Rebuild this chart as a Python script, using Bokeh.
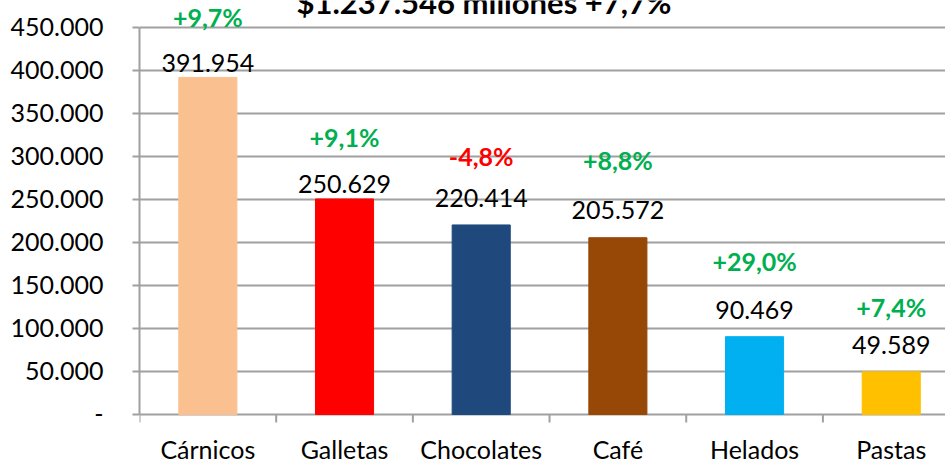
from bokeh.plotting import figure
from bokeh.models import ColumnDataSource, LabelSet, Label, FixedTicker, Range1d
from bokeh.core.properties import value
from bokeh.embed import file_html
from bokeh.resources import INLINE

# ---- data ----
categories = ["Cárnicos", "Galletas", "Chocolates", "Café", "Helados", "Pastas"]
sales = [391954, 250629, 220414, 205572, 90469, 49589]
changes = ["+9,7%", "+9,1%", "-4,8%", "+8,8%", "+29,0%", "+7,4%"]
y_ticks = [0, 50000, 100000, 150000, 200000, 250000, 300000, 350000, 400000, 450000]
y_tick_labels = ["-", "50.000", "100.000", "150.000", "200.000", "250.000",
                 "300.000", "350.000", "400.000", "450.000"]
title_text = "$1.237.546 millones +7,7%"

# ---- styles / layout ----
bar_colors = ["#FAC090", "#FF0000", "#1F497D", "#974806", "#00B0F0", "#FFC000"]
change_colors = ["#00B050", "#00B050", "#FF0000", "#00B050", "#00B050", "#00B050"]
value_label_offsets = [5, 6, 18, 19, 18, 18]
change_label_offsets = [50, 52, 59, 68, 66, 55]
FONT = "Lato"
GRID = "#A0A0A0"
Y_AXIS_MAX = 450000
Y_VIEW = (-58140, 481395)     # room below 0 for category labels, above for the title
X_VIEW = (0, 5.897)
TICK_LEN = 9300                # boundary tick length (data units, ~8px)
TITLE_POS = (2.52, 479650)

xs = [i + 0.5 for i in range(len(categories))]
bounds_x = list(range(len(categories) + 1))
value_texts = [f"{v:,}".replace(",", ".") for v in sales]

src = ColumnDataSource(dict(x=xs, top=sales, color=bar_colors, vtext=value_texts,
                            ctext=changes, ccolor=change_colors, cat=categories,
                            voff=value_label_offsets, coff=change_label_offsets))

p = figure(width=945, height=464, output_backend="svg", toolbar_location=None,
           x_range=Range1d(*X_VIEW), y_range=Range1d(*Y_VIEW),
           min_border_left=139, min_border_right=0, min_border_top=0,
           min_border_bottom=0)
p.outline_line_color = None
p.background_fill_color = "white"
p.border_fill_color = "white"

p.vbar(x="x", top="top", width=0.425, bottom=0, color="color", source=src)

# y axis
p.yaxis.ticker = FixedTicker(ticks=y_ticks, minor_ticks=[])
p.yaxis.bounds = (0, Y_AXIS_MAX)
p.yaxis.major_label_overrides = {t: l for t, l in zip(y_ticks, y_tick_labels)}
p.yaxis.major_tick_out = 7
p.yaxis.major_tick_in = 0
p.yaxis.minor_tick_line_color = None
p.yaxis.major_tick_line_color = GRID
p.yaxis.major_tick_line_width = 2
p.yaxis.axis_line_color = GRID
p.yaxis.axis_line_width = 2
p.yaxis.major_label_standoff = 29
p.yaxis.major_label_text_font = FONT
p.yaxis.major_label_text_font_size = "25px"
p.yaxis.major_label_text_color = "black"

# category axis drawn at y = 0 (zero grid line is the axis line)
p.xaxis.visible = False
p.xgrid.grid_line_color = None
p.ygrid.ticker = FixedTicker(ticks=y_ticks)
p.ygrid.grid_line_color = GRID
p.ygrid.grid_line_width = 2
p.segment(x0=bounds_x, y0=[0] * len(bounds_x), x1=bounds_x,
          y1=[-TICK_LEN] * len(bounds_x), line_color=GRID, line_width=2)
p.text(x="x", y=0, text="cat", source=src, y_offset=35,
       text_align="center", text_baseline="alphabetic",
       text_font=value(FONT), text_font_size="25px", text_color="black")

p.add_layout(LabelSet(x="x", y="top", text="vtext", y_offset="voff", source=src,
                      text_align="center", text_baseline="alphabetic",
                      text_font=value(FONT), text_font_size="25px",
                      text_color="black"))
p.add_layout(LabelSet(x="x", y="top", text="ctext", y_offset="coff", source=src,
                      text_align="center", text_baseline="alphabetic",
                      text_font=value(FONT), text_font_size="25px",
                      text_font_style="bold", text_color="ccolor"))

p.add_layout(Label(x=TITLE_POS[0], y=TITLE_POS[1], text=title_text,
                   text_align="center", text_baseline="alphabetic",
                   text_font=FONT, text_font_size="31px",
                   text_font_style="bold", text_color="black"))

open("out.html", "w").write(file_html(p, INLINE))
